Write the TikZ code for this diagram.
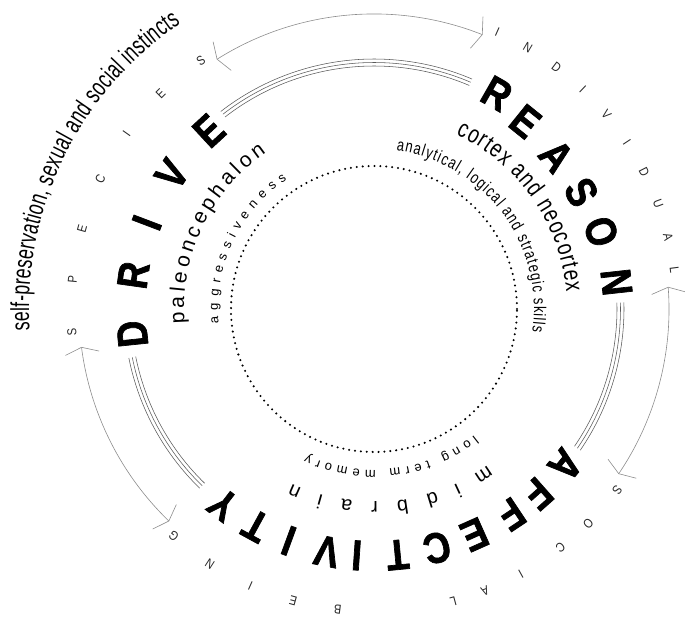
\documentclass[tikz,border=0pt]{standalone}
\usepackage{fontspec}
\setmainfont{Liberation Sans}
\newfontfamily\narrowf[FakeStretch=0.68]{Liberation Sans}
\newfontfamily\cortexf[FakeStretch=0.76]{Liberation Sans}
\newfontfamily\semif[FakeStretch=0.85]{Liberation Sans}
\newfontfamily\boldf[FakeStretch=0.85,FakeBold=1.6]{Liberation Sans}
\usetikzlibrary{decorations.text,arrows.meta}
\newcommand\fOuter{\narrowf\fontsize{26}{26}\selectfont}
\newcommand\fMid{\fontsize{21}{21}\selectfont}
\newcommand\fCortex{\cortexf\fontsize{25}{25}\selectfont}
\newcommand\fMidbrain{\fontsize{20}{20}\selectfont}
\newcommand\fInner{\fontsize{13}{13}\selectfont}
\newcommand\fSkills{\cortexf\fontsize{17}{17}\selectfont}
\newcommand\ringtext[5]{%
  \path[decorate, decoration={text along path, text align=fit to path, text={|#4|#5}}]
    (#1:#3) arc[start angle=#1, end angle=#2, radius=#3];}
\begin{document}
\begin{tikzpicture}[x=1pt,y=1pt,
  big/.style={inner sep=0pt, font=\boldf\bfseries\fontsize{43}{43}\selectfont},
  thinletter/.style={inner sep=0pt, text=black!85, font=\semif\fontsize{13}{13}\selectfont},
  triple/.style={draw=black!65, line width=0.55pt},
  grayarc/.style={draw=black!45, line width=0.6pt,
    arrows={Straight Barb[length=6pt,width=34pt]-Straight Barb[length=6pt,width=34pt]}}
]
\useasboundingbox (-374,-310) rectangle (311,309);
\coordinate (c) at (0,0);

% dotted core circle
\draw[line width=2.3pt, line cap=round, dash pattern=on 0pt off 5.9pt] (c) circle[radius=143];

% triple lines between the big words
\foreach \r in {243,246.5,250}{
  \draw[triple] (127.8:\r) arc[start angle=127.8, end angle=66.9, radius=\r];
  \draw[triple] (1.5:\r) arc[start angle=1.5, end angle=-34.4, radius=\r];
  \draw[triple] (191.3:\r) arc[start angle=191.3, end angle=225.8, radius=\r];
}

% gray double arrows
\draw[grayarc] (68.4:295) arc[start angle=68.4, end angle=122.2, radius=295];
\draw[grayarc] (4.3:295) arc[start angle=4.3, end angle=-34, radius=295];
\draw[grayarc] (187.4:295) arc[start angle=187.4, end angle=226, radius=295];

% big words
\foreach \ch/\a [count=\i] in {D/185.9,R/172,I/159.2,V/146.3,E/132.8}
  \node[big, rotate=\a-90] (dr\i) at (\a:243) {\ch};
\foreach \ch/\a/\r [count=\i] in {R/60.3/248,E/51.1/241,A/40/238,S/29.4/238,O/18.8/240,N/6.3/244}
  \node[big, rotate=\a-90] (re\i) at (\a:\r) {\ch};
\foreach \ch/\a [count=\i] in {A/-39.2,F/-48.4,F/-56.2,E/-66,C/-75.2,T/-84.5,I/-94,V/-101,I/-110.2,T/-118.6,Y/-127.6}
  \node[big, rotate=\a-90] (af\i) at (\a:247) {\ch};

% outer spaced letters
\foreach \ch [count=\i from 0] in {S,P,E,C,I,E,S}{
  \pgfmathsetmacro\a{184.4-9.92*\i}
  \node[thinletter, rotate=\a-90] (sp\i) at (\a:303) {\ch};
}
\foreach \ch [count=\i from 0] in {I,N,D,I,V,I,D,U,A,L}{
  \pgfmathsetmacro\a{66-6.52*\i}
  \node[thinletter, rotate=\a-90] (in\i) at (\a:303) {\ch};
}
\foreach \ch/\a [count=\i] in {S/-36.6,O/-45,C/-52,I/-61,A/-68.5,L/-74.8,B/-96.9,E/-105.5,I/-114.1,N/-122.8,G/-131.4}
  \node[thinletter, rotate=\a-90] (so\i) at (\a:303) {\ch};

% curved texts
\ringtext{183.6}{124.1}{345}{\fOuter}{self-preservation, sexual and social instincts}
\ringtext{184.5}{124.5}{190}{\fMid}{paleoncephalon}
\ringtext{64.9}{5.0}{193}{\fCortex}{cortex and neocortex}
\ringtext{-54}{-115.2}{193}{\fMidbrain}{midbrain}
\ringtext{185.2}{123.9}{156}{\fInner}{aggressiveness}
\ringtext{82}{-8.4}{160}{\fSkills}{analytical, logical and strategic skills}
\ringtext{-51.5}{-114.7}{161}{\fInner}{long term memory}
\end{tikzpicture}
\end{document}
